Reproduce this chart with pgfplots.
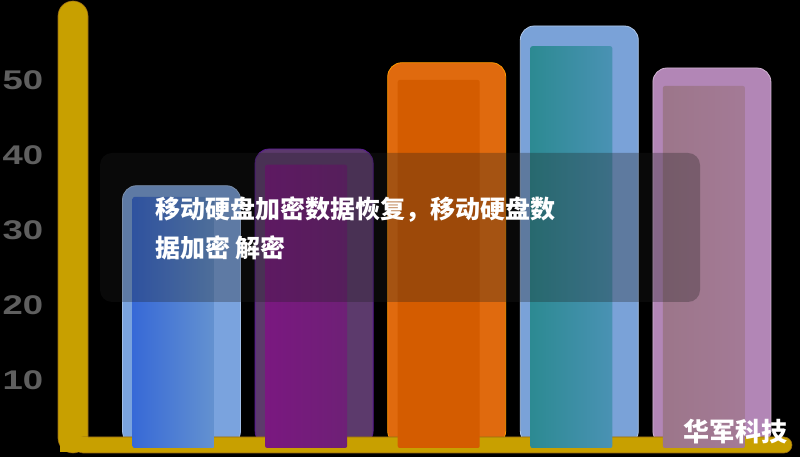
\documentclass[border=0pt]{standalone}
\usepackage{fontspec}
\setmainfont{Liberation Sans}
\newfontfamily\cjk{Noto Sans CJK SC}
\newfontfamily\tickfont{Liberation Sans}[FakeStretch=1.35]
\usepackage{pgfplots}
\pgfplotsset{compat=1.18}

\definecolor{gold}{RGB}{200,160,0}
\definecolor{goldedge}{RGB}{150,105,20}
\definecolor{tickgray}{RGB}{95,95,95}
\definecolor{blueout}{RGB}{122,163,222}
\definecolor{bluein}{RGB}{100,146,208}
\definecolor{blueleft}{RGB}{55,105,215}
\definecolor{purpout}{RGB}{92,58,108}
\definecolor{purpin}{RGB}{110,32,118}
\definecolor{purpleft}{RGB}{122,24,128}
\definecolor{orout}{RGB}{224,106,14}
\definecolor{orin}{RGB}{212,92,0}
\definecolor{tealout}{RGB}{122,162,216}
\definecolor{tealin}{RGB}{74,146,180}
\definecolor{tealleft}{RGB}{44,138,146}
\definecolor{mauout}{RGB}{178,134,182}
\definecolor{mauin}{RGB}{164,122,150}
\definecolor{mauleft}{RGB}{156,118,138}
\definecolor{capbox}{RGB}{30,30,30}

\pgfplotsset{
  base/.style={
    x=132.6pt, y=7.5pt,
    xmin=-1.3688, xmax=4.6644, ymax=60.667,
    enlargelimits=false,
    axis line style={draw=none},
    major tick length=0pt,
    xtick=\empty,
    clip=true,
  },
  outer/.style={ybar, bar width=118pt, bar shift=0pt, rounded corners=14pt, line width=0.8pt},
  inner/.style={ybar, bar width=82pt, bar shift=-8pt, rounded corners=2pt, draw=none},
}

\begin{document}
\begin{tikzpicture}
\useasboundingbox (0,0) rectangle (800pt,457pt);
\fill[black] (0,0) rectangle (800pt,457pt);

% outer bars
\begin{axis}[base, anchor=south west, at={(0pt,12pt)}, ymin=1.3333,
  ytick={10,20,30,40,50},
  /pgf/number format/assume math mode=true,
  yticklabel style={font=\tickfont\bfseries\fontsize{27}{27}\selectfont, text=tickgray, anchor=center, xshift=23pt},
]
\addplot[outer, fill=blueout, draw=blueout!70!white] coordinates {(0,35.9)};
\addplot[outer, fill=purpout, draw=purpin!80!blue] coordinates {(1,40.8)};
\addplot[outer, fill=orout, draw=orange!80!yellow] coordinates {(2,52.3)};
\addplot[outer, fill=tealout, draw=tealout!60!white] coordinates {(3,57.2)};
\addplot[outer, fill=mauout, draw=mauout!60!white] coordinates {(4,51.6)};
\end{axis}

% yellow axis bands
\fill[gold, draw=goldedge, line width=0.6pt, rounded corners=15pt] (58pt,4pt) rectangle (88pt,456pt);
\fill[gold, draw=goldedge, line width=0.6pt, rounded corners=8pt] (75pt,4pt) rectangle (792pt,20pt);
\fill[gold] (60pt,4.5pt) rectangle (87.5pt,19.5pt);

% inner bars
\begin{axis}[base, anchor=south west, at={(0pt,9pt)}, ymin=0.9333, ytick=\empty]
\addplot[inner, left color=blueleft, right color=bluein] coordinates {(0,34.4)};
\addplot[inner, left color=purpleft, right color=purpin] coordinates {(1,38.7)};
\addplot[inner, fill=orin] coordinates {(2,50.0)};
\addplot[inner, left color=tealleft, right color=tealin] coordinates {(3,54.5)};
\addplot[inner, left color=mauleft, right color=mauin] coordinates {(4,49.2)};
\end{axis}

% caption overlay
\fill[capbox, opacity=0.3, rounded corners=12pt] (100pt,155pt) rectangle (700pt,304pt);
\node[anchor=west, text=white, inner sep=0pt] at (155pt,247pt)
  {\cjk\bfseries\fontsize{25}{25}\selectfont 移动硬盘加密数据恢复，移动硬盘数};
\node[anchor=west, text=white, inner sep=0pt] at (155pt,209pt)
  {\cjk\bfseries\fontsize{25}{25}\selectfont 据加密 解密};
\node[text=white, inner sep=0pt] at (735pt,25pt)
  {\cjk\bfseries\fontsize{26}{26}\selectfont 华军科技};
\end{tikzpicture}
\end{document}
